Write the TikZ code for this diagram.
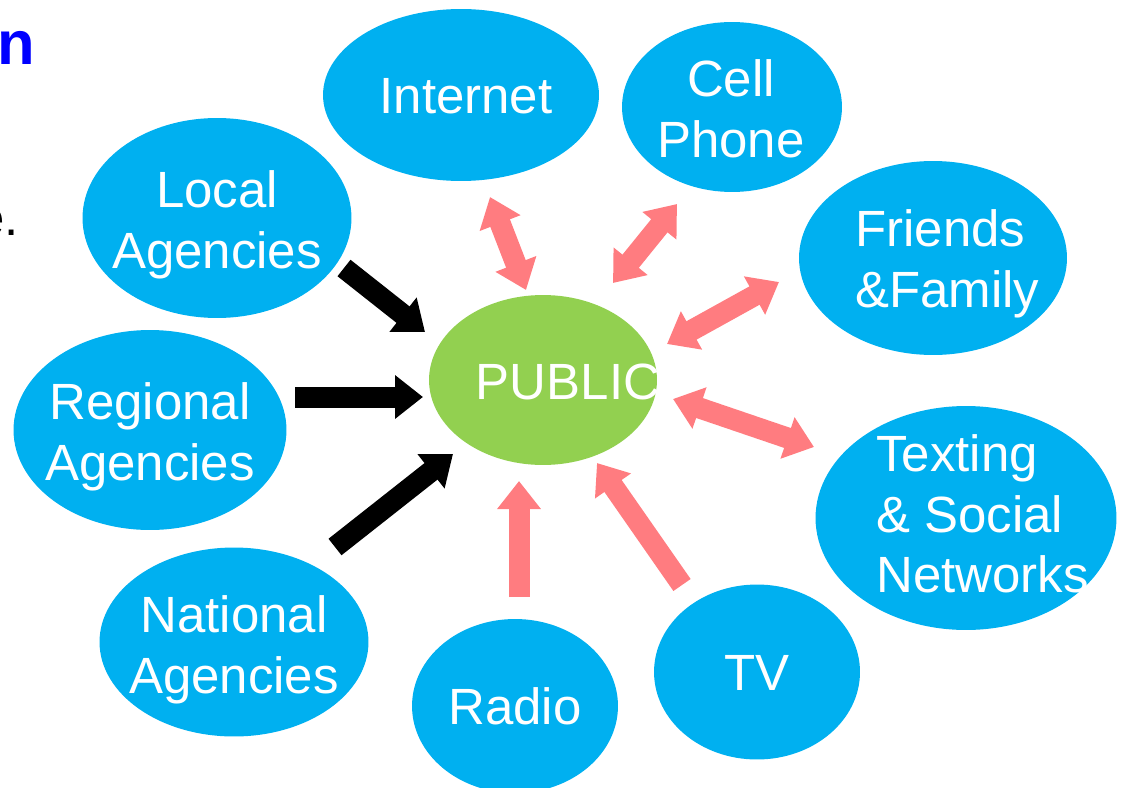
\documentclass[tikz,border=0pt]{standalone}
\usepackage{fontspec}
\setmainfont{Liberation Sans}
\usepackage{tikz}
\usepackage{xcolor}
\usetikzlibrary{shapes.geometric, arrows.meta}

\definecolor{bubbleblue}{HTML}{00B0F0}
\definecolor{publicgreen}{HTML}{92D050}
\definecolor{arrowpink}{HTML}{FF7C80}
\definecolor{titleblue}{HTML}{0000FF}

\begin{document}
\begin{tikzpicture}[x=0.02cm, y=-0.02cm,
    bubble/.style={ellipse, fill=bubbleblue, inner sep=0pt},
    word/.style={text=white, font=\fontsize{29}{34.5}\selectfont, align=center, inner sep=0pt},
    pusharrow/.style={line width=0.42cm, -{Triangle[width=0.84cm, length=0.56cm]}},
    twowayarrow/.style={line width=0.42cm, {Triangle[width=0.84cm, length=0.56cm]}-{Triangle[width=0.84cm, length=0.56cm]}}]
    \useasboundingbox (0,0) rectangle (1124,787);

    % Cut-off title text
    \node[anchor=base west, inner sep=0pt, text=titleblue, font=\fontsize{35}{42}\selectfont\bfseries] (titlen) at (-3,65) {n};
    \node[anchor=base east, inner sep=0pt, font=\fontsize{29}{34.5}\selectfont] (titlee) at (19,235) {e.};

    % Bubbles
    \node[bubble, minimum width=5.52cm, minimum height=3.44cm] (internet) at (461,95) {};
    \node[bubble, minimum width=4.4cm, minimum height=3.4cm] (cell) at (732,107) {};
    \node[bubble, minimum width=5.36cm, minimum height=3.88cm] (friends) at (933,258) {};
    \node[bubble, minimum width=6.02cm, minimum height=4.48cm] (texting) at (966,518) {};
    \node[bubble, minimum width=4.12cm, minimum height=3.5cm] (tv) at (757,672) {};
    \node[bubble, minimum width=4.12cm, minimum height=3.48cm] (radio) at (515,706) {};
    \node[bubble, minimum width=5.38cm, minimum height=3.78cm] (national) at (234,642) {};
    \node[bubble, minimum width=5.46cm, minimum height=4cm] (regional) at (150,430) {};
    \node[bubble, minimum width=5.38cm, minimum height=4cm] (local) at (217,218) {};
    \node[bubble, fill=publicgreen, minimum width=4.56cm, minimum height=3.4cm] (public) at (543,380) {};

    % Bubble texts
    \node[word] (internet-t) at (466,96.5) {Internet};
    \node[word] (cell-t) at (731,108.5) {Cell\\Phone};
    \node[word, anchor=west, align=left] (friends-t) at (855,264) {Friends\\\&Family};
    \node[word, anchor=west, align=left] (texting-t) at (876,514) {Texting\\\& Social\\Networks};
    \node[word] (tv-t) at (757,673) {TV};
    \node[word] (radio-t) at (515,706) {Radio};
    \node[word] (national-t) at (234,650) {National\\Agencies};
    \node[word] (regional-t) at (150,437) {Regional\\Agencies};
    \node[word] (local-t) at (217,225) {Local\\Agencies};
    \node[word] (public-t) at (568,381.5) {PUBLIC};

    % Arrow ends
    \coordinate (localtail) at (344,268);
    \coordinate (localtip) at (425,332);
    \coordinate (regionaltail) at (295,397);
    \coordinate (regionaltip) at (423,397);
    \coordinate (nationaltail) at (335,547);
    \coordinate (nationaltip) at (453,454);
    \coordinate (internetend) at (490,197);
    \coordinate (internetpub) at (526,290);
    \coordinate (cellend) at (677,204);
    \coordinate (cellpub) at (613,283);
    \coordinate (friendsend) at (779,282);
    \coordinate (friendspub) at (667,344);
    \coordinate (textingend) at (814,447);
    \coordinate (textingpub) at (673,399);
    \coordinate (radiotail) at (519,597);
    \coordinate (radiotip) at (519,481);
    \coordinate (tvtail) at (682,585);
    \coordinate (tvtip) at (597,463);

    % Agencies into the public
    \draw[pusharrow, black] (localtail) -- (localtip);
    \draw[pusharrow, black] (regionaltail) -- (regionaltip);
    \draw[pusharrow, black] (nationaltail) -- (nationaltip);

    % Media links
    \draw[twowayarrow, arrowpink] (internetend) -- (internetpub);
    \draw[twowayarrow, arrowpink] (cellend) -- (cellpub);
    \draw[twowayarrow, arrowpink] (friendsend) -- (friendspub);
    \draw[twowayarrow, arrowpink] (textingend) -- (textingpub);
    \draw[pusharrow, arrowpink] (radiotail) -- (radiotip);
    \draw[pusharrow, arrowpink] (tvtail) -- (tvtip);
\end{tikzpicture}
\end{document}
